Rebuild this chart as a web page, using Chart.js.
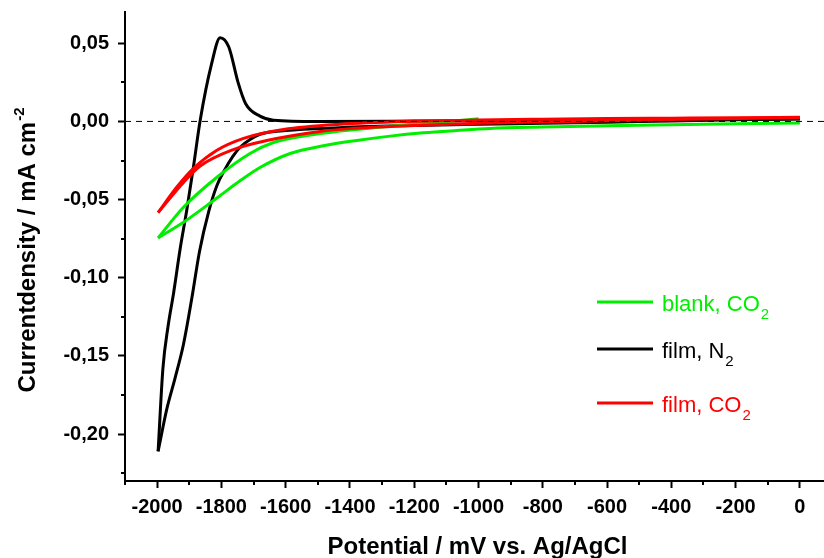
<!DOCTYPE html>
<html>
<head>
<meta charset="utf-8">
<script src="https://cdn.jsdelivr.net/npm/chart.js@4.4.1/dist/chart.umd.min.js"></script>
<style>
  html, body { margin: 0; padding: 0; background: #fff; }
  #wrap { width: 824px; height: 558px; }
</style>
</head>
<body>
<div id="wrap"><canvas id="grafico" width="824" height="558"></canvas></div>
<script>
// tick values
const xTicks = [-2000, -1800, -1600, -1400, -1200, -1000, -800, -600, -400, -200, 0];
const xMinor = [-2100, -1900, -1700, -1500, -1300, -1100, -900, -700, -500, -300, -100];
const yTicks = [-0.20, -0.15, -0.10, -0.05, 0.00, 0.05];
const yMinor = [-0.225, -0.175, -0.125, -0.075, -0.025, 0.025];

// [potential mV, current density mA cm-2]
const blankCO2Fwd = [[-1000, 0.0017], [-1120, -0.0004], [-1224, -0.0021], [-1327, -0.004], [-1431, -0.0062],
  [-1534, -0.009], [-1638, -0.0135], [-1711, -0.0205], [-1814, -0.0357], [-1918, -0.0549], [-1997, -0.0745]];
const blankCO2Rev = [[-1997, -0.0745], [-1918, -0.0645], [-1814, -0.049], [-1742, -0.038], [-1680, -0.0295],
  [-1586, -0.0205], [-1483, -0.0156], [-1379, -0.0122], [-1275, -0.0094], [-1172, -0.0073], [-1068, -0.0058],
  [-964, -0.0045], [-800, -0.0036], [-600, -0.0028], [-400, -0.0021], [-200, -0.0015], [0, -0.001]];

const filmN2Fwd = [[0, 0.0015], [-200, 0.001], [-400, 0.0003], [-600, -0.0005], [-800, -0.0012], [-1000, -0.0018],
  [-1200, -0.0026], [-1431, -0.004], [-1600, -0.0058], [-1680, -0.0082], [-1711, -0.0115],
  [-1742, -0.0165], [-1765, -0.0225], [-1790, -0.031], [-1814, -0.041], [-1840, -0.058], [-1868, -0.083],
  [-1892, -0.113], [-1918, -0.1425], [-1944, -0.164], [-1970, -0.184], [-1997, -0.211]];
const filmN2Rev = [[-1997, -0.211], [-1982, -0.158], [-1966, -0.131], [-1949, -0.110], [-1928, -0.081],
  [-1908, -0.057], [-1887, -0.029], [-1866, 0.0008], [-1831, 0.0365], [-1804, 0.0536], [-1777, 0.0476],
  [-1748, 0.0248], [-1725, 0.0115], [-1680, 0.0034], [-1638, 0.0008], [-1500, 0.0],
  [-1200, 0.0002], [-800, 0.0006], [-400, 0.001], [0, 0.0017]];

const filmCO2Fwd = [[0, 0.0026], [-200, 0.0024], [-400, 0.0021], [-600, 0.0018], [-800, 0.0014], [-1000, 0.0009],
  [-1200, 0.0001], [-1431, -0.0018], [-1607, -0.0052], [-1731, -0.0108], [-1814, -0.0184],
  [-1887, -0.0300], [-1938, -0.0418], [-1997, -0.0583]];
const filmCO2Rev = [[-1997, -0.0583], [-1918, -0.039], [-1866, -0.0285], [-1763, -0.018], [-1659, -0.0122],
  [-1493, -0.0064], [-1400, -0.0046], [-1200, -0.0026], [-1000, -0.0012], [-800, -0.0003], [-600, 0.0005],
  [-400, 0.0012], [-200, 0.0018], [0, 0.0023]];

const zeroLine = [[-2100, 0], [75, 0]];

const legendItems = [
  { texto: 'blank, CO', sub: '2', cor: '#00ee00' },
  { texto: 'film, N', sub: '2', cor: '#000000' },
  { texto: 'film, CO', sub: '2', cor: '#ff0000' }
];

const fonte = "'Liberation Sans', Arial, sans-serif";
const toPts = arr => arr.map(p => ({ x: p[0], y: p[1] }));

function serie(label, dados, cor, ordem) {
  return {
    label: label, data: toPts(dados), borderColor: cor, borderWidth: 3,
    pointRadius: 0, cubicInterpolationMode: 'monotone', order: ordem, fill: false
  };
}

// minor ticks, axis titles and legend with sub/superscripts
const extras = {
  id: 'extras',
  afterDraw(chart) {
    const ctx = chart.ctx;
    const xs = chart.scales.x, ys = chart.scales.y;
    const area = chart.chartArea;
    ctx.save();
    ctx.strokeStyle = '#000';
    ctx.lineWidth = 2;
    ctx.beginPath();
    xMinor.forEach(v => {
      const px = Math.round(xs.getPixelForValue(v));
      ctx.moveTo(px, area.bottom); ctx.lineTo(px, area.bottom + 4);
    });
    yMinor.forEach(v => {
      const py = Math.round(ys.getPixelForValue(v));
      ctx.moveTo(area.left, py); ctx.lineTo(area.left - 4, py);
    });
    ctx.stroke();

    // x title
    ctx.fillStyle = '#000';
    ctx.font = 'bold 24px ' + fonte;
    ctx.textAlign = 'center';
    ctx.textBaseline = 'alphabetic';
    ctx.fillText('Potential / mV vs. Ag/AgCl', (area.left + area.right) / 2 + 3, 554);

    // y title
    ctx.translate(35, (area.top + area.bottom) / 2 + 4);
    ctx.rotate(-Math.PI / 2);
    ctx.textAlign = 'left';
    const principal = 'Currentdensity / mA cm';
    ctx.font = 'bold 24px ' + fonte;
    const w1 = ctx.measureText(principal).width;
    ctx.font = 'bold 15px ' + fonte;
    const w2 = ctx.measureText('-2').width;
    const x0 = -(w1 + w2) / 2;
    ctx.font = 'bold 24px ' + fonte;
    ctx.fillText(principal, x0, 0);
    ctx.font = 'bold 15px ' + fonte;
    ctx.fillText('-2', x0 + w1 + 1, -11);
    ctx.restore();

    // legend
    ctx.save();
    const linhaY = [302, 349, 403];
    legendItems.forEach((it, i) => {
      const y = linhaY[i];
      ctx.strokeStyle = it.cor;
      ctx.lineWidth = 3;
      ctx.beginPath();
      ctx.moveTo(597, y); ctx.lineTo(653, y);
      ctx.stroke();
      ctx.fillStyle = it.cor;
      ctx.textAlign = 'left';
      ctx.textBaseline = 'alphabetic';
      ctx.font = '22px ' + fonte;
      ctx.fillText(it.texto, 662, y + 9);
      const w = ctx.measureText(it.texto).width;
      ctx.font = '15px ' + fonte;
      ctx.fillText(it.sub, 662 + w + 1, y + 17);
    });
    ctx.restore();
  }
};

const ctx = document.getElementById('grafico').getContext('2d');
const meuGrafico = new Chart(ctx, {
  type: 'line',
  data: {
    datasets: [
      { label: 'zero', data: toPts(zeroLine), borderColor: '#000', borderWidth: 1, borderDash: [6, 5],
        pointRadius: 0, order: 0 },
      serie('film, CO2', filmCO2Fwd, '#ff0000', 1),
      serie('film, CO2 (return)', filmCO2Rev, '#ff0000', 1),
      serie('blank, CO2', blankCO2Fwd, '#00ee00', 2),
      serie('blank, CO2 (return)', blankCO2Rev, '#00ee00', 2),
      serie('film, N2', filmN2Fwd, '#000000', 3),
      serie('film, N2 (return)', filmN2Rev, '#000000', 3)
    ]
  },
  options: {
    responsive: false,
    animation: false,
    devicePixelRatio: 1,
    layout: { padding: { top: 12, right: 0, left: 0, bottom: 0 } },
    plugins: { legend: { display: false }, tooltip: { enabled: false } },
    scales: {
      x: {
        type: 'linear', min: -2100, max: 75,
        afterBuildTicks: s => { s.ticks = xTicks.map(v => ({ value: v })); },
        afterFit: s => { s.height = 77; s.paddingLeft = 0; s.paddingRight = 0; },
        grid: { drawOnChartArea: false, drawTicks: true, tickLength: 7, tickWidth: 2, tickColor: '#000' },
        border: { display: true, color: '#000', width: 2 },
        ticks: {
          autoSkip: false, maxRotation: 0, padding: 7, color: '#000',
          font: { family: fonte, size: 20, weight: 'bold' },
          callback: v => String(v)
        }
      },
      y: {
        type: 'linear', min: -0.23, max: 0.07,
        afterBuildTicks: s => { s.ticks = yTicks.map(v => ({ value: v })); },
        afterFit: s => { s.width = 125; s.paddingTop = 0; s.paddingBottom = 0; },
        grid: { drawOnChartArea: false, drawTicks: true, tickLength: 7, tickWidth: 2, tickColor: '#000' },
        border: { display: true, color: '#000', width: 2 },
        ticks: {
          padding: 9, color: '#000',
          font: { family: fonte, size: 20, weight: 'bold' },
          callback: v => v.toFixed(2).replace('.', ',')
        }
      }
    }
  },
  plugins: [extras]
});
</script>
</body>
</html>
